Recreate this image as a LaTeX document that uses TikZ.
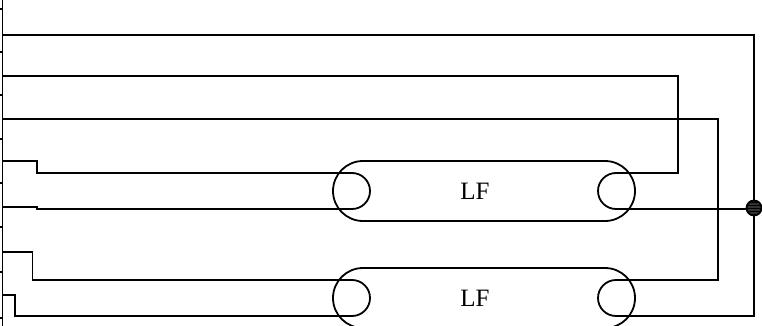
\documentclass[tikz,border=0pt]{standalone}
\usepackage{fontspec}
\setmainfont{Liberation Serif}
\usetikzlibrary{calc,patterns}
\tikzset{wire/.style={line width=1.8pt, color=black}}
\def\lfcoil(#1)(#2){%
	\draw[wire] ($(#1)+(-121,-30)$) arc (-90:-270:30) -- ++(242,0) arc (90:-90:30) -- cycle;
	\node[font=\fontsize{25}{25}\selectfont] (#2) at ($(#1)+(-9,0)$) {LF};
	\coordinate (#2 tl) at ($(#1)+(-132,-18)$);
	\coordinate (#2 bl) at ($(#1)+(-132,18)$);
	\coordinate (#2 tr) at ($(#1)+(132,-18)$);
	\coordinate (#2 br) at ($(#1)+(132,18)$);
	\draw[wire] (#2 tl) arc (-90:90:18);
	\draw[wire] (#2 tr) arc (-90:-270:18);
}

\begin{document}
\begin{tikzpicture}[x=1pt,y=-1pt]
	\useasboundingbox (0,0) rectangle (762,326);
	\begin{scope}
		\clip (0,0) rectangle (762,326);

		% coils
		\lfcoil(484,191)(lfa);
		\lfcoil(484,298)(lfb);

		% terminal strip
		\draw[wire] (2.5,0) -- (2.5,326);
		\foreach \y in {9,52,95,139,183,227,272,318}
			\draw[wire] (0,\y) -- (2.5,\y);

		\coordinate (join) at (754,208);

		% long runs
		\draw[wire] (2.5,35) -| (join) |- (lfb br);
		\draw[wire] (2.5,76) -- (678,76) |- (lfa tr);
		\draw[wire] (2.5,119) -- (718,119) |- (lfb tr);

		% jogs into the coils
		\draw[wire] (2.5,161) -- (37,161) |- (lfa tl);
		\draw[wire] (2.5,207) -- (37,207) |- (lfa bl);
		\draw[wire] (2.5,252) -- (32.5,252) |- (lfb tl);
		\draw[wire] (2.5,295) -- (15,295) |- (lfb bl);

		\draw[wire] (lfa br) -- (lfa br -| join);
		\fill[black!80] (join) circle (7.5);
		\draw[wire, pattern=horizontal lines, pattern color=black] (join) circle (7.5);
	\end{scope}
\end{tikzpicture}
\end{document}
